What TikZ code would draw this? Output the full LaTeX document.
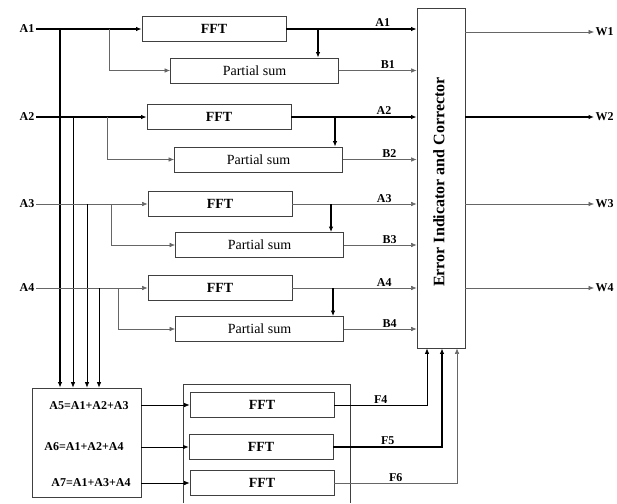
\documentclass[tikz,border=0pt]{standalone}
\usepackage{fontspec}
\setmainfont{Liberation Serif}
\usetikzlibrary{
    arrows.meta,
    positioning,
    calc
}

\tikzset{
    blk/.style={draw=black!75, line width=0.8pt, minimum height=25pt, inner sep=0pt},
    fftbox/.style={blk, minimum width=144pt, font=\fontsize{14}{15}\selectfont\bfseries},
    psbox/.style={blk, minimum width=168pt, font=\fontsize{14}{15}\selectfont},
    lbl/.style={font=\fontsize{12}{13}\selectfont\bfseries, text=black, inner sep=1.5pt},
    sumtxt/.style={font=\fontsize{12}{13}\selectfont\bfseries, inner sep=0pt},
    heavy/.style={line width=1.1pt, black},
    mid/.style={line width=0.7pt, black},
    light/.style={line width=0.6pt, black!60},
    >={Latex[length=5.5pt,width=4.5pt]}
}

\begin{document}
\begin{tikzpicture}[x=1pt, y=-1pt]
\useasboundingbox (0,0) rectangle (617,503);

% Error indicator and corrector
\node[blk, minimum width=48pt, minimum height=340pt] (err) at (441,178) {};
\node[rotate=90, font=\fontsize{16}{17}\selectfont\bfseries] (errtxt) at (439,182) {Error Indicator and Corrector};

% Sum block (A5, A6, A7)
\node[blk, minimum width=109pt, minimum height=109pt] (sum) at (86.5,442.5) {};
\node[sumtxt] (s5) at (89,406) {A5=A1+A2+A3};
\node[sumtxt] (s6) at (84,447) {A6=A1+A2+A4};
\node[sumtxt] (s7) at (91,483) {A7=A1+A3+A4};

% Input rows: FFT and partial sum
\foreach \i/\y/\fx/\px/\py/\bx/\tx/\vx/\st/\vt in {
    1/29/214/254.5/70.5/109/318/60/heavy/heavy,
    2/117/219/258.5/159.5/107/335/73/heavy/mid,
    3/204/220/259.5/245/111/331/87/light/mid,
    4/288/220/259.5/329/118/333/99/light/mid} {
    \node[lbl, anchor=east] (a\i) at (36,\y) {A\i};
    \node[fftbox] (fft\i) at (\fx,\y) {FFT};
    \node[psbox] (ps\i) at (\px,\py) {Partial sum};
    \coordinate (br\i) at (\bx,\y);
    \coordinate (tap\i) at (\tx,\y);
    \coordinate (tr\i) at (\vx,\y);
    \draw[\st, ->] (a\i.east) -- (fft\i.west);
    \draw[light, ->] (br\i) |- (ps\i.west);
    \draw[\vt, ->] (tr\i) -- (tr\i |- sum.north);
    \draw[\st, ->] (fft\i.east) -- (fft\i.east -| err.west)
        node[lbl, pos=0.74, above] {A\i};
    \draw[heavy, ->] (tap\i) -- (tap\i |- ps\i.north);
    \draw[light, ->] (ps\i.east) -- (ps\i.east -| err.west)
        node[lbl, pos=0.63, above] {B\i};
}

% Outputs
\foreach \i/\y/\st in {1/32/light, 2/117/heavy, 3/204/light, 4/288/light} {
    \node[lbl, anchor=west] (w\i) at (594,\y) {W\i};
    \draw[\st, ->] (err.east |- w\i.west) -- (w\i.west);
}

% Second FFT group
\draw[blk] (183,503) -- (183,384) -- (350,384) -- (350,503);
\node[fftbox] (fft5) at (262,405) {FFT};
\node[fftbox] (fft6) at (261,447) {FFT};
\node[fftbox] (fft7) at (262,483) {FFT};

\foreach \j/\k/\dx/\st in {5/4/-14/mid, 6/5/1/heavy, 7/6/16/light} {
    \draw[mid, ->] (sum.east |- fft\j.west) -- (fft\j.west);
    \draw[\st, ->] (fft\j.east) -| ([xshift=\dx pt]err.south)
        node[lbl, pos=0.25, above] {F\k};
}

\end{tikzpicture}
\end{document}
